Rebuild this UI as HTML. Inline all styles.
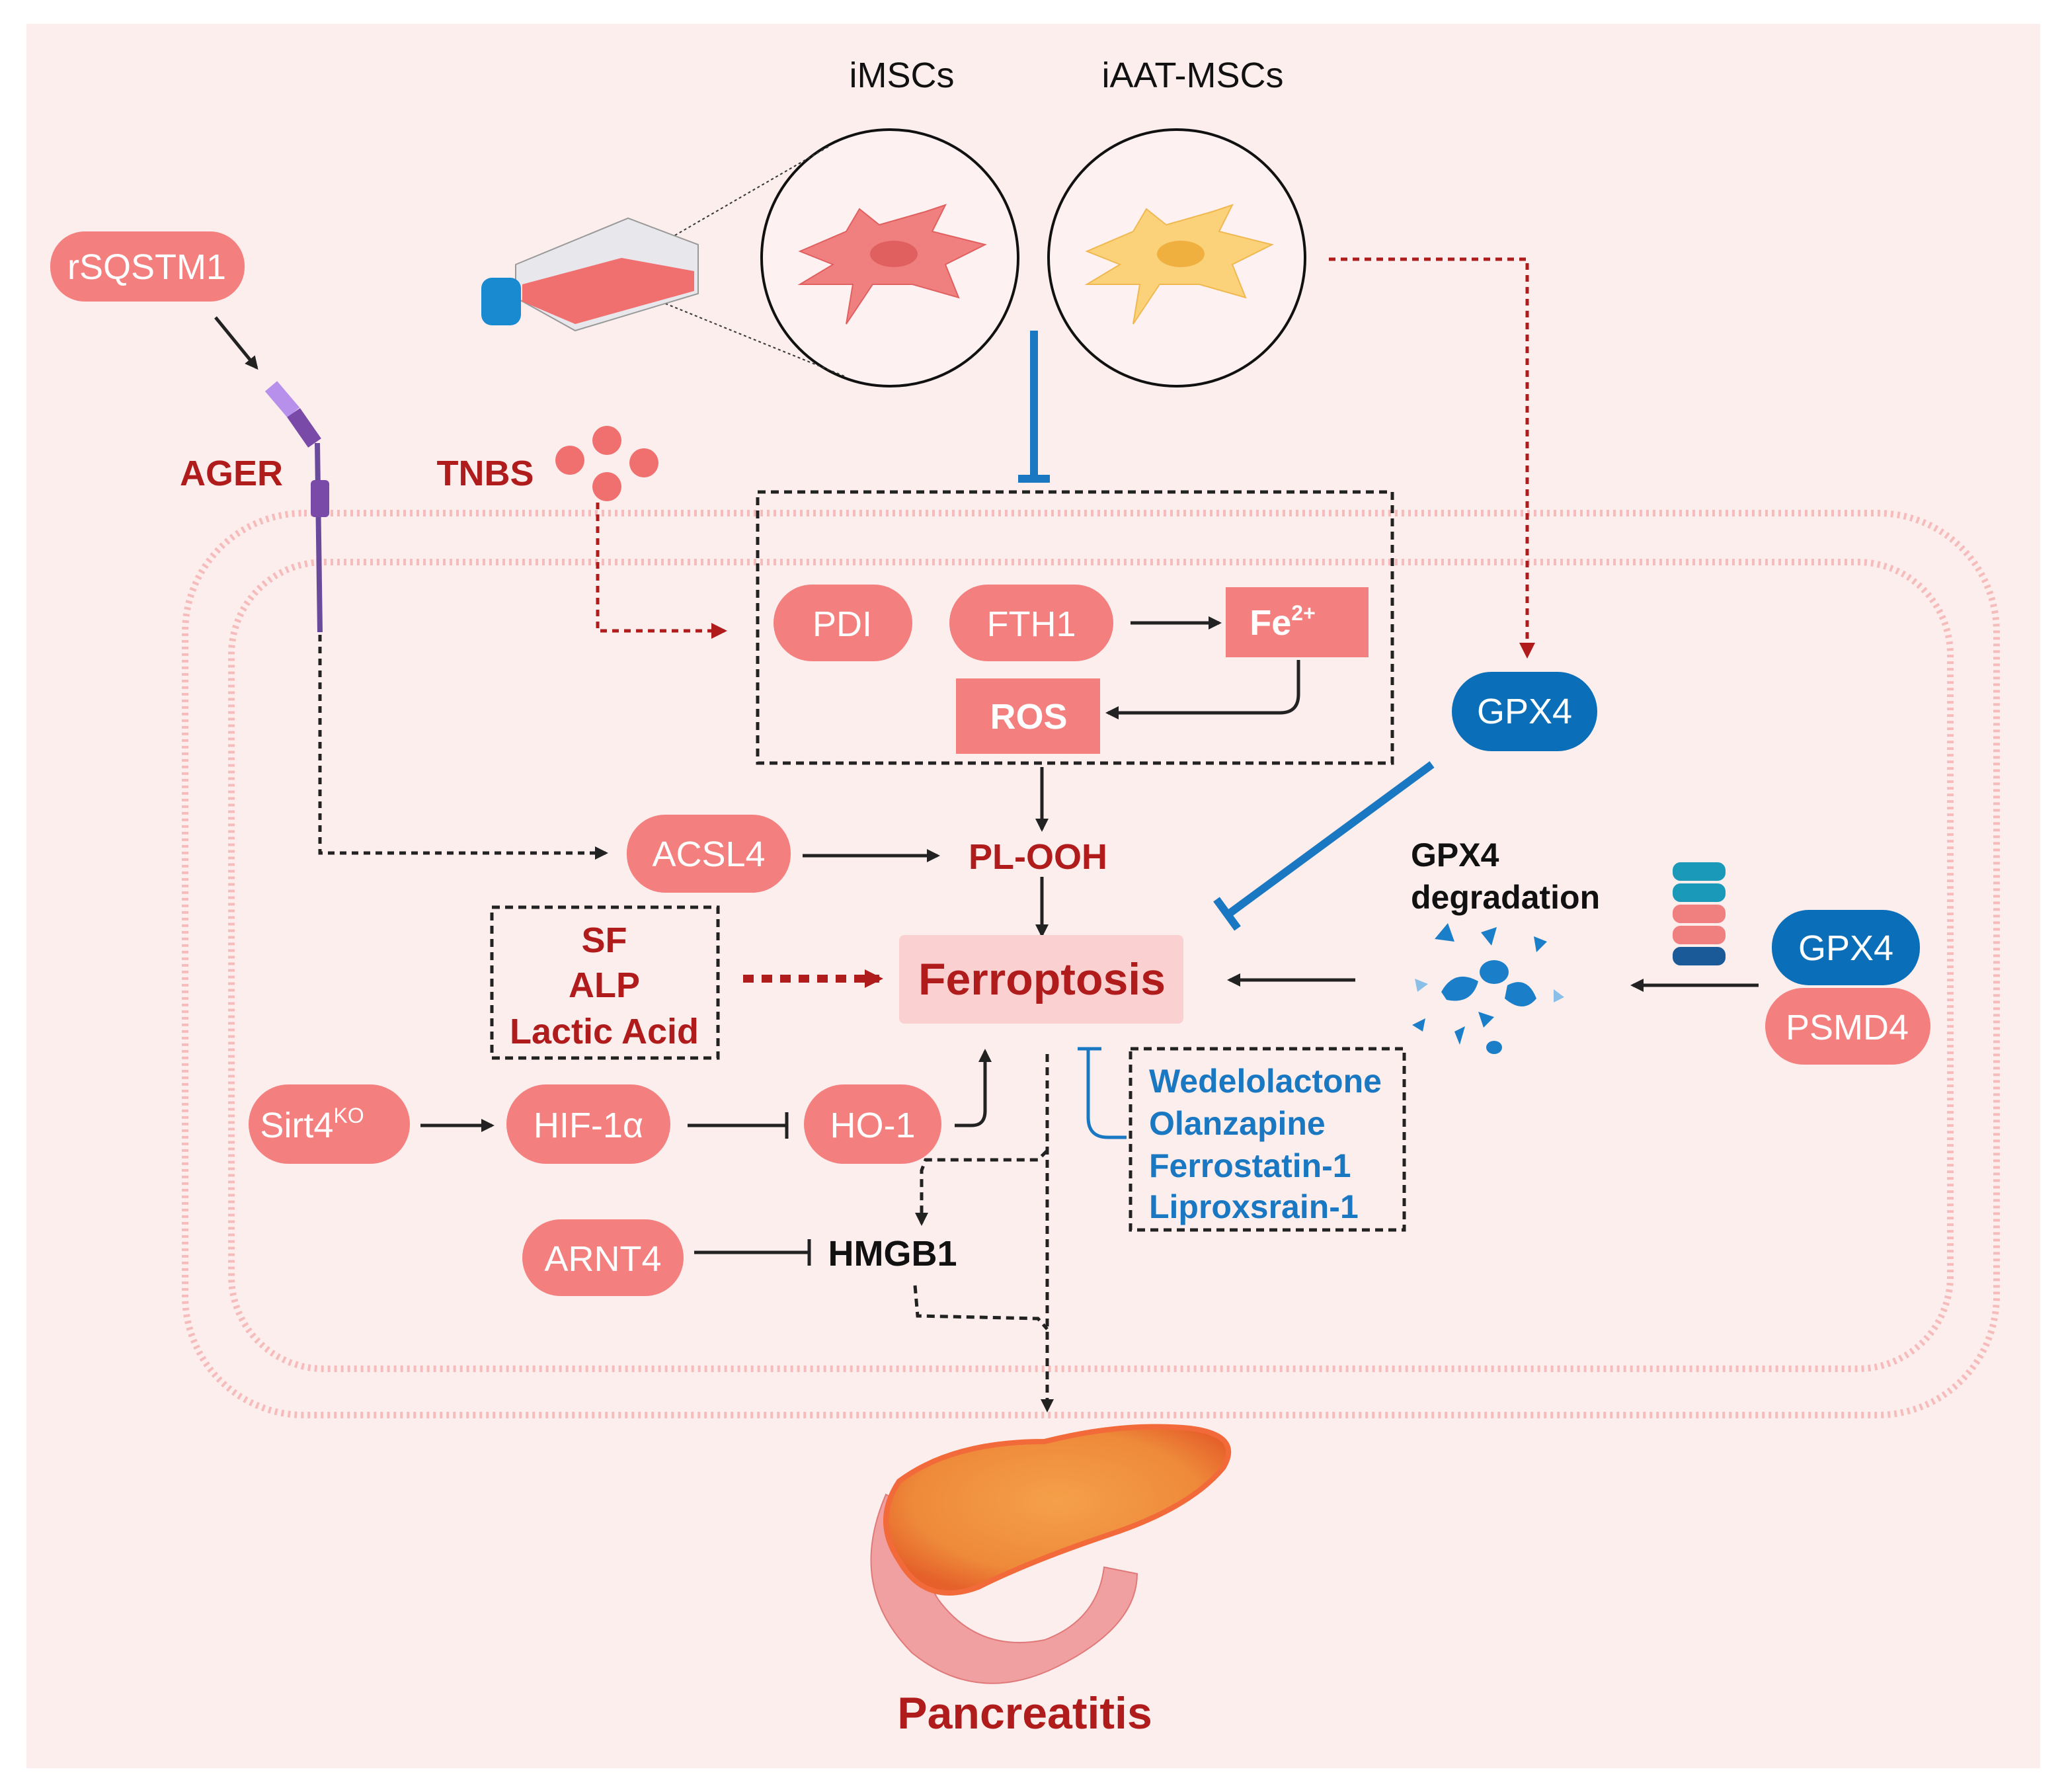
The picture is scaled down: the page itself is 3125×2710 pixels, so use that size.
<!DOCTYPE html>
<html><head><meta charset="utf-8"><style>
html,body{margin:0;padding:0;background:#fff}
svg{display:block}
text{font-family:"Liberation Sans",sans-serif}
</style></head><body>
<svg width="3125" height="2710" viewBox="0 0 1562.5 1355" xmlns="http://www.w3.org/2000/svg">
<defs>
<marker id="ab" markerWidth="10" markerHeight="10" refX="8" refY="5" orient="auto" markerUnits="userSpaceOnUse"><path d="M0,0 L10,5 L0,10 z" fill="#222"/></marker>
<marker id="ar" markerWidth="14" markerHeight="14" refX="11" refY="7" orient="auto" markerUnits="userSpaceOnUse"><path d="M0,0 L14,7 L0,14 z" fill="#b01c1c"/></marker>
<marker id="ars" markerWidth="12" markerHeight="12" refX="10" refY="6" orient="auto" markerUnits="userSpaceOnUse"><path d="M0,0 L12,6 L0,12 z" fill="#b01c1c"/></marker>
<radialGradient id="pg" cx="50%" cy="45%" r="60%"><stop offset="0" stop-color="#f5a04a"/><stop offset="0.7" stop-color="#ee8a3a"/><stop offset="1" stop-color="#e5602a"/></radialGradient>
</defs>
<rect x="20" y="18" width="1523" height="1319" fill="#fdeeee"/>
<rect x="140" y="388" width="1370" height="682" rx="90" fill="none" stroke="#f6bcbc" stroke-width="5" stroke-dasharray="2 3"/>
<rect x="175" y="425" width="1300" height="610" rx="70" fill="none" stroke="#f6bcbc" stroke-width="5" stroke-dasharray="2 3"/>
<text x="682" y="66" font-size="27" text-anchor="middle" fill="#111">iMSCs</text>
<text x="902" y="66" font-size="27" text-anchor="middle" fill="#111">iAAT-MSCs</text>
<circle cx="673" cy="195" r="97" fill="#fdf1f1" stroke="#111" stroke-width="2"/>
<circle cx="890" cy="195" r="97" fill="#fdf1f1" stroke="#111" stroke-width="2"/>
<path d="M605,190 L640,175 L650,158 L665,170 L700,160 L715,155 L705,175 L745,185 L715,200 L725,225 L690,215 L660,215 L640,245 L645,215 L605,215 L630,200 Z" fill="#f08080" stroke="#e06060"/>
<ellipse cx="676" cy="192" rx="18" ry="10" fill="#e06060"/>
<path d="M822,190 L857,175 L867,158 L882,170 L917,160 L932,155 L922,175 L962,185 L932,200 L942,225 L907,215 L877,215 L857,245 L862,215 L822,215 L847,200 Z" fill="#fbd27a" stroke="#f0b850"/>
<ellipse cx="893" cy="192" rx="18" ry="10" fill="#f0b040"/>
<line x1="455" y1="210" x2="628" y2="110" stroke="#333" stroke-dasharray="2 2"/>
<line x1="455" y1="210" x2="640" y2="285" stroke="#333" stroke-dasharray="2 2"/>
<path d="M390,200 L475,165 L528,185 L528,222 L435,250 L390,225 Z" fill="#e8e8ec" stroke="#999"/>
<path d="M395,215 L470,195 L525,205 L525,220 L435,245 L395,228 Z" fill="#f07070"/>
<rect x="364" y="210" width="30" height="36" rx="8" fill="#1a8ad0"/>
<rect x="38" y="175" width="147" height="53" rx="26" fill="#f47f7f"/>
<text x="111" y="211" font-size="27" fill="#fff" text-anchor="middle">rSQSTM1</text>
<line x1="163" y1="240" x2="194" y2="278" stroke="#222" stroke-width="2.5" marker-end="url(#ab)"/>
<line x1="205" y1="292" x2="222" y2="312" stroke="#b690ea" stroke-width="12"/>
<line x1="222" y1="312" x2="238" y2="335" stroke="#7a4aa8" stroke-width="12"/>
<line x1="240" y1="335" x2="242" y2="478" stroke="#6a4a9a" stroke-width="4"/>
<rect x="235" y="363" width="14" height="28" rx="3" fill="#7a4aa8"/>
<text x="175" y="367" font-size="27" font-weight="bold" fill="#b01c1c" text-anchor="middle">AGER</text>
<text x="367" y="367" font-size="27" font-weight="bold" fill="#b01c1c" text-anchor="middle">TNBS</text>
<g fill="#f07070"><circle cx="431" cy="348" r="11"/><circle cx="459" cy="333" r="11"/><circle cx="487" cy="350" r="11"/><circle cx="459" cy="368" r="11"/></g>
<polyline points="452,380 452,477 548,477" fill="none" stroke="#b01c1c" stroke-width="2.5" stroke-dasharray="5 4" marker-end="url(#ars)"/>
<line x1="782" y1="250" x2="782" y2="362" stroke="#1a78c2" stroke-width="6"/>
<line x1="770" y1="362" x2="794" y2="362" stroke="#1a78c2" stroke-width="6"/>
<rect x="573" y="372" width="480" height="205" fill="none" stroke="#222" stroke-width="2.5" stroke-dasharray="6 4"/>
<rect x="585" y="442" width="105" height="58" rx="29" fill="#f47f7f"/>
<text x="637" y="481" font-size="27" fill="#fff" text-anchor="middle">PDI</text>
<rect x="718" y="442" width="124" height="58" rx="29" fill="#f47f7f"/>
<text x="780" y="481" font-size="27" fill="#fff" text-anchor="middle">FTH1</text>
<rect x="927" y="444" width="108" height="53" fill="#f47f7f"/>
<text x="970" y="480" font-size="27" font-weight="bold" fill="#fff" text-anchor="middle">Fe<tspan font-size="16" dy="-11">2+</tspan></text>
<rect x="723" y="513" width="109" height="57" fill="#f47f7f"/>
<text x="778" y="551" font-size="27" font-weight="bold" fill="#fff" text-anchor="middle">ROS</text>
<line x1="855" y1="471" x2="922" y2="471" stroke="#222" stroke-width="2.5" marker-end="url(#ab)"/>
<path d="M982,499 L982,525 Q982,539 968,539 L838,539" fill="none" stroke="#222" stroke-width="2.5" marker-end="url(#ab)"/>
<polyline points="1005,196 1155,196 1155,496" fill="none" stroke="#b01c1c" stroke-width="2.5" stroke-dasharray="5 4" marker-end="url(#ars)"/>
<rect x="1098" y="508" width="110" height="60" rx="30" fill="#0a6fb8"/>
<text x="1153" y="547" font-size="27" fill="#fff" text-anchor="middle">GPX4</text>
<line x1="1083" y1="578" x2="928" y2="692" stroke="#1a78c2" stroke-width="6"/>
<line x1="920" y1="680" x2="936" y2="702" stroke="#1a78c2" stroke-width="6"/>
<line x1="788" y1="580" x2="788" y2="627" stroke="#222" stroke-width="2.5" marker-end="url(#ab)"/>
<polyline points="242,480 242,645 458,645" fill="none" stroke="#222" stroke-width="2.5" stroke-dasharray="5 4" marker-end="url(#ab)"/>
<rect x="474" y="616" width="124" height="59" rx="29" fill="#f47f7f"/>
<text x="536" y="655" font-size="27" fill="#fff" text-anchor="middle">ACSL4</text>
<line x1="607" y1="647" x2="709" y2="647" stroke="#222" stroke-width="2.5" marker-end="url(#ab)"/>
<text x="785" y="657" font-size="27" font-weight="bold" fill="#b01c1c" text-anchor="middle">PL-OOH</text>
<line x1="788" y1="663" x2="788" y2="707" stroke="#222" stroke-width="2.5" marker-end="url(#ab)"/>
<rect x="680" y="707" width="215" height="67" rx="4" fill="#fbd0d0"/>
<text x="788" y="752" font-size="34" font-weight="bold" fill="#b01c1c" text-anchor="middle">Ferroptosis</text>
<rect x="372" y="686" width="171" height="114" fill="none" stroke="#222" stroke-width="2.5" stroke-dasharray="6 4"/>
<text x="457" y="720" font-size="27" font-weight="bold" fill="#b01c1c" text-anchor="middle">SF</text>
<text x="457" y="754" font-size="27" font-weight="bold" fill="#b01c1c" text-anchor="middle">ALP</text>
<text x="457" y="789" font-size="27" font-weight="bold" fill="#b01c1c" text-anchor="middle">Lactic Acid</text>
<line x1="562" y1="740" x2="665" y2="740" stroke="#b01c1c" stroke-width="6" stroke-dasharray="8 6" marker-end="url(#ar)"/>
<line x1="1025" y1="741" x2="930" y2="741" stroke="#222" stroke-width="2.5" marker-end="url(#ab)"/>
<text x="1067" y="655" font-size="25" font-weight="bold" fill="#111">GPX4</text>
<text x="1067" y="687" font-size="25" font-weight="bold" fill="#111">degradation</text>
<g fill="#1a7fc8">
<path d="M1085,710 l10,-12 l5,14 z"/><path d="M1120,705 l12,-4 l-4,14 z"/><path d="M1160,708 l10,4 l-8,8 z"/>
<path d="M1090,750 q10,-18 28,-8 q-5,18 -24,14 z"/><ellipse cx="1130" cy="735" rx="11" ry="9"/><path d="M1140,745 q15,-8 22,10 q-10,12 -24,0 z"/>
<path d="M1068,775 l10,-5 l-2,10 z"/><path d="M1100,780 l8,-4 l-4,14 z"/><ellipse cx="1130" cy="792" rx="6" ry="5"/><path d="M1118,765 l12,4 l-8,8 z"/>
</g>
<g fill="#8ac0e8"><path d="M1070,740 l10,4 l-8,6 z"/><path d="M1175,748 l8,6 l-8,4 z"/></g>
<g>
<rect x="1265" y="652" width="40" height="14" rx="6" fill="#1a9ab8"/>
<rect x="1265" y="668" width="40" height="14" rx="6" fill="#1a9ab8"/>
<rect x="1265" y="684" width="40" height="14" rx="6" fill="#f08080"/>
<rect x="1265" y="700" width="40" height="14" rx="6" fill="#f08080"/>
<rect x="1265" y="716" width="40" height="14" rx="6" fill="#1a5a98"/>
</g>
<line x1="1330" y1="745" x2="1235" y2="745" stroke="#222" stroke-width="2.5" marker-end="url(#ab)"/>
<rect x="1335" y="747" width="125" height="58" rx="29" fill="#f47f7f"/>
<text x="1397" y="786" font-size="27" fill="#fff" text-anchor="middle">PSMD4</text>
<rect x="1340" y="688" width="112" height="57" rx="28" fill="#0a6fb8"/>
<text x="1396" y="726" font-size="27" fill="#fff" text-anchor="middle">GPX4</text>
<rect x="188" y="820" width="122" height="60" rx="30" fill="#f47f7f"/>
<text x="236" y="860" font-size="27" fill="#fff" text-anchor="middle">Sirt4<tspan font-size="16" dy="-11">KO</tspan></text>
<line x1="318" y1="851" x2="372" y2="851" stroke="#222" stroke-width="2.5" marker-end="url(#ab)"/>
<rect x="383" y="820" width="124" height="60" rx="30" fill="#f47f7f"/>
<text x="445" y="860" font-size="27" fill="#fff" text-anchor="middle">HIF-1α</text>
<line x1="520" y1="851" x2="595" y2="851" stroke="#222" stroke-width="2.5"/>
<line x1="595" y1="841" x2="595" y2="861" stroke="#222" stroke-width="2.5"/>
<rect x="608" y="820" width="104" height="60" rx="30" fill="#f47f7f"/>
<text x="660" y="860" font-size="27" fill="#fff" text-anchor="middle">HO-1</text>
<path d="M722,851 L735,851 Q745,851 745,840 L745,795" fill="none" stroke="#222" stroke-width="2.5" marker-end="url(#ab)"/>
<path d="M823,793 L823,845 Q823,860 838,860 L852,860" fill="none" stroke="#1a78c2" stroke-width="2.5"/>
<line x1="815" y1="793" x2="833" y2="793" stroke="#1a78c2" stroke-width="2.5"/>
<rect x="855" y="793" width="207" height="137" fill="none" stroke="#222" stroke-width="2.5" stroke-dasharray="6 4"/>
<g font-size="25" font-weight="bold" fill="#1a78c2">
<text x="869" y="826">Wedelolactone</text><text x="869" y="858">Olanzapine</text><text x="869" y="890">Ferrostatin-1</text><text x="869" y="921">Liproxsrain-1</text></g>
<line x1="792" y1="797" x2="792" y2="1066" stroke="#222" stroke-width="2.5" stroke-dasharray="6 4" marker-end="url(#ab)"/>
<polyline points="792,870 785,877 700,877 697,885 697,925" fill="none" stroke="#222" stroke-width="2.5" stroke-dasharray="6 4" marker-end="url(#ab)"/>
<rect x="395" y="922" width="122" height="58" rx="29" fill="#f47f7f"/>
<text x="456" y="961" font-size="27" fill="#fff" text-anchor="middle">ARNT4</text>
<line x1="525" y1="947" x2="612" y2="947" stroke="#222" stroke-width="2.5"/>
<line x1="612" y1="937" x2="612" y2="957" stroke="#222" stroke-width="2.5"/>
<text x="675" y="957" font-size="27" font-weight="bold" fill="#111" text-anchor="middle">HMGB1</text>
<polyline points="692,972 694,995 785,997 792,1005" fill="none" stroke="#222" stroke-width="2.5" stroke-dasharray="6 4"/>
<path d="M670,1130 Q640,1200 690,1250 Q740,1290 800,1260 Q860,1230 860,1190 L835,1185 Q830,1225 790,1240 Q740,1250 710,1210 Q690,1180 705,1150 Z" fill="#f0a0a0" stroke="#e07a7a"/>
<path d="M680,1120 Q720,1090 790,1090 Q850,1075 900,1080 Q940,1085 925,1110 Q900,1140 840,1160 Q780,1180 740,1200 Q700,1215 680,1180 Q660,1150 680,1120 Z" fill="url(#pg)" stroke="#f26a3a" stroke-width="4"/>
<text x="775" y="1307" font-size="34" font-weight="bold" fill="#b01c1c" text-anchor="middle">Pancreatitis</text>
</svg>
</body></html>
